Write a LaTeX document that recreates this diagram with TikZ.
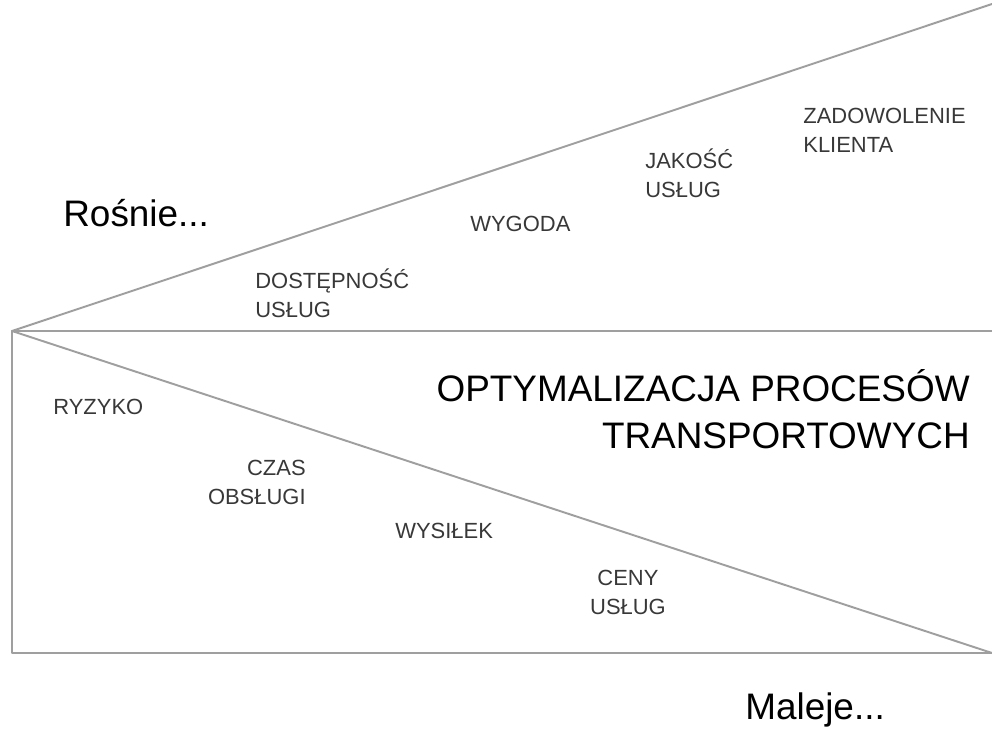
\documentclass[tikz,border=0pt]{standalone}
\usepackage{fontspec}
\setmainfont{Liberation Sans}
\usepackage{tikz}
\usetikzlibrary{positioning}

\begin{document}
\begin{tikzpicture}[x=0.02cm,y=-0.02cm,
  edge/.style={draw=gray!75,line width=1.1pt,line cap=round,line join=round},
  lbl/.style={text=black!78,font=\fontsize{12.5}{16.5}\selectfont,inner sep=0pt},
  big/.style={text=black,font=\fontsize{21}{27}\selectfont,inner sep=0pt}]
  \useasboundingbox (0,0) rectangle (992,729);
  % corners of the wedge
  \coordinate (apex) at (12,331);
  \coordinate (topend) at (992,4);
  \coordinate (midend) at (992,331);
  \coordinate (botend) at (992,653);
  \coordinate (botleft) at (12,653);
  \draw[edge] (topend) -- (apex) -- (midend);
  \draw[edge] (apex) -- (botend);
  \draw[edge] (apex) -- (botleft) -- (botend);
  % rising side
  \node[big,anchor=west] (rosnie) at (63,213) {Rośnie...};
  \node[lbl,anchor=west,align=left] (dostep) at (255,293) {DOSTĘPNOŚĆ\\USŁUG};
  \node[lbl,anchor=west] (wygoda) at (470,224) {WYGODA};
  \node[lbl,anchor=west,align=left] (jakosc) at (645,173) {JAKOŚĆ\\USŁUG};
  \node[lbl,anchor=west,align=left] (zadow) at (803,130) {ZADOWOLENIE\\KLIENTA};
  % falling side
  \node[lbl,anchor=west] (ryzyko) at (53,407) {RYZYKO};
  \node[lbl,anchor=east,align=right] (czas) at (306,482) {CZAS\\OBSŁUGI};
  \node[lbl,anchor=west] (wysilek) at (395,531) {WYSIŁEK};
  \node[lbl,align=center] (ceny) at (628,592) {CENY\\USŁUG};
  \node[big,anchor=east,align=right] (optym) at (970,409)
    {OPTYMALIZACJA PROCESÓW\\TRANSPORTOWYCH};
  \node[big,anchor=west] (maleje) at (745,710) {Maleje...};
\end{tikzpicture}
\end{document}
